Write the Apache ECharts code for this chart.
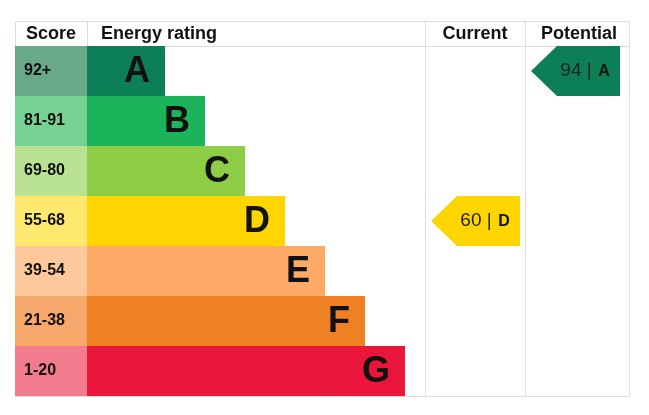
<!DOCTYPE html>
<html><head><meta charset="utf-8">
<script src="https://cdn.jsdelivr.net/npm/echarts@6/dist/echarts.min.js"></script>
<style>html,body{margin:0;padding:0;background:#fff}#c{width:649px;height:415px}</style>
</head><body><div id="c"></div>
<script>
// rating bands
const ratings = ['A', 'B', 'C', 'D', 'E', 'F', 'G']
const scoreLabels = ['92+', '81-91', '69-80', '55-68', '39-54', '21-38', '1-20']
const barEnds = [150, 190, 230, 270, 310, 350, 390]
const barColors = ['#0c7f56', '#1bb45a', '#8dce46', '#ffd500', '#fcaa65', '#ef8023', '#e9153b']
const scoreColors = ['#68a98a', '#78d293', '#b9e393', '#ffe86e', '#fdc89c', '#f5a86a', '#f27b8e']
const headers = ['Score', 'Energy rating', 'Current', 'Potential']
// current / potential
const currentScore = 60, currentBand = 3
const potentialScore = 94, potentialBand = 0

const SCORE_W = 72, CUR_X = 410, POT_X = 510, END_X = 614
const FONT = '"Liberation Sans", Arial, sans-serif'

const el = document.getElementById('c')
const chart = echarts.init(el, null, { renderer: 'canvas', width: 649, height: 415 })

function rowItem (params, api) {
  const i = params.dataIndex
  const tl = api.coord([0, i]), br = api.coord([barEnds[i], i + 1])
  const sx = api.coord([SCORE_W, i])[0]
  const h = br[1] - tl[1]
  return {
    type: 'group',
    children: [
      { type: 'rect', shape: { x: tl[0], y: tl[1], width: sx - tl[0], height: h }, style: { fill: scoreColors[i] } },
      { type: 'rect', shape: { x: sx, y: tl[1], width: br[0] - sx, height: h }, style: { fill: barColors[i] } },
      { type: 'text', x: tl[0] + 9, y: tl[1] + h / 2, style: { text: scoreLabels[i], font: 'bold 16px ' + FONT, fill: '#111', verticalAlign: 'middle' } },
      { type: 'text', x: br[0] - 15, y: tl[1] + h / 2 + 1, style: { text: ratings[i], font: 'bold 36px ' + FONT, fill: '#111', align: 'right', verticalAlign: 'middle' } }
    ]
  }
}

function arrow (colX, score, band, api) {
  const tl = api.coord([colX, band]), br = api.coord([colX + 100, band + 1])
  const x0 = tl[0] + 6, x1 = br[0] - 5, y0 = tl[1], y1 = br[1], ym = (y0 + y1) / 2
  return {
    type: 'group',
    children: [
      { type: 'polygon', shape: { points: [[x0, ym], [x0 + 26, y0], [x1, y0], [x1, y1], [x0 + 26, y1]] }, style: { fill: barColors[band] } },
      { type: 'text', x: x0 + 45, y: ym, style: { text: score + ' |', font: '19px ' + FONT, fill: '#222', align: 'center', verticalAlign: 'middle' } },
      { type: 'text', x: x1 - 16, y: ym + 1, style: { text: ratings[band], font: 'bold 16px ' + FONT, fill: '#111', align: 'center', verticalAlign: 'middle' } }
    ]
  }
}

const lineStyle = { stroke: '#dcdcdc', lineWidth: 1 }
const headFont = 'bold 18px ' + FONT
const option = {
  animation: false,
  grid: { left: 15, right: 20, top: 46, bottom: 19 },
  xAxis: { type: 'value', min: 0, max: END_X, show: false },
  yAxis: { type: 'value', min: 0, max: 7, inverse: true, show: false },
  graphic: [
    { type: 'rect', shape: { x: 15.5, y: 21.5, width: 614, height: 375 }, style: { fill: 'none', ...lineStyle } },
    { type: 'line', shape: { x1: 15, y1: 46.5, x2: 629, y2: 46.5 }, style: lineStyle },
    { type: 'line', shape: { x1: 87.5, y1: 21, x2: 87.5, y2: 46 }, style: lineStyle },
    { type: 'line', shape: { x1: 425.5, y1: 21, x2: 425.5, y2: 396 }, style: lineStyle },
    { type: 'line', shape: { x1: 525.5, y1: 21, x2: 525.5, y2: 396 }, style: lineStyle },
    { type: 'text', x: 51, y: 34, style: { text: headers[0], font: headFont, fill: '#111', align: 'center', verticalAlign: 'middle' } },
    { type: 'text', x: 101, y: 34, style: { text: headers[1], font: headFont, fill: '#111', verticalAlign: 'middle' } },
    { type: 'text', x: 475, y: 34, style: { text: headers[2], font: headFont, fill: '#111', align: 'center', verticalAlign: 'middle' } },
    { type: 'text', x: 579, y: 34, style: { text: headers[3], font: headFont, fill: '#111', align: 'center', verticalAlign: 'middle' } }
  ],
  series: [
    { type: 'custom', data: ratings.map((r, i) => [i]), renderItem: rowItem },
    { type: 'custom', data: [[0]], renderItem: (p, api) => arrow(CUR_X, currentScore, currentBand, api) },
    { type: 'custom', data: [[0]], renderItem: (p, api) => arrow(POT_X, potentialScore, potentialBand, api) }
  ]
}
chart.setOption(option)
</script></body></html>
